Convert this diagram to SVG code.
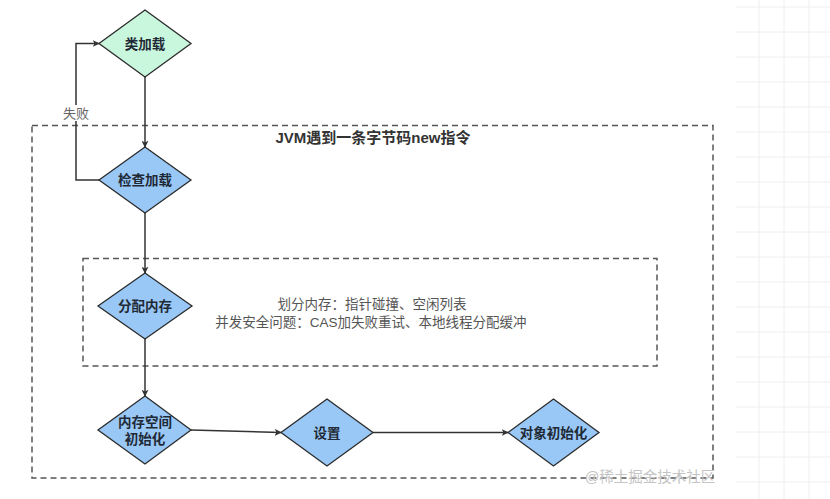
<svg xmlns="http://www.w3.org/2000/svg" width="830" height="499" viewBox="0 0 830 499">
<style>
.grid line{stroke:#eeeeee;stroke-width:1}
.frame{fill:none;stroke:#555;stroke-width:1.5;stroke-dasharray:6 4}
.dia{stroke:#2b2b2b;stroke-width:1.3}
.blue{fill:#99c8f7}
.green{fill:#c9f7de}
.lbl{font-family:"Liberation Sans","Noto Sans CJK SC",sans-serif;font-size:13.5px;font-weight:bold;fill:#1f2a36;text-anchor:middle;dominant-baseline:central}
.note{font-family:"Liberation Sans","Noto Sans CJK SC",sans-serif;font-size:13.5px;fill:#555;text-anchor:middle;dominant-baseline:central}
.edge{fill:none;stroke:#333;stroke-width:1.5}
</style>
<defs>
<marker id="arr" viewBox="0 0 10 10" refX="9" refY="5" markerWidth="7" markerHeight="7" markerUnits="userSpaceOnUse" orient="auto">
<path d="M0,0 L10,5 L0,10 L2.5,5 Z" fill="#333"/>
</marker>
</defs>
<rect width="830" height="499" fill="#ffffff"/>
<g class="grid">
<line x1="759" y1="0" x2="759" y2="499"/>
<line x1="784" y1="0" x2="784" y2="499"/>
<line x1="809" y1="0" x2="809" y2="499"/>
<line x1="736" y1="7" x2="830" y2="7"/>
<line x1="736" y1="32" x2="830" y2="32"/>
<line x1="736" y1="57" x2="830" y2="57"/>
<line x1="736" y1="82" x2="830" y2="82"/>
<line x1="736" y1="107" x2="830" y2="107"/>
<line x1="736" y1="132" x2="830" y2="132"/>
<line x1="736" y1="157" x2="830" y2="157"/>
<line x1="736" y1="182" x2="830" y2="182"/>
<line x1="736" y1="207" x2="830" y2="207"/>
<line x1="736" y1="232" x2="830" y2="232"/>
<line x1="736" y1="257" x2="830" y2="257"/>
<line x1="736" y1="282" x2="830" y2="282"/>
<line x1="736" y1="307" x2="830" y2="307"/>
<line x1="736" y1="332" x2="830" y2="332"/>
<line x1="736" y1="357" x2="830" y2="357"/>
<line x1="736" y1="382" x2="830" y2="382"/>
<line x1="736" y1="407" x2="830" y2="407"/>
<line x1="736" y1="432" x2="830" y2="432"/>
<line x1="736" y1="457" x2="830" y2="457"/>
<line x1="736" y1="482" x2="830" y2="482"/>
</g>
<g id="outer-frame">
<rect class="frame" x="32" y="125.5" width="681" height="352.5"/>
<text x="373" y="137" font-family="Liberation Sans,Noto Sans CJK SC,sans-serif" font-size="15" font-weight="bold" fill="#333" text-anchor="middle" dominant-baseline="central">JVM遇到一条字节码new指令</text>
</g>
<g id="inner-frame">
<rect class="frame" x="83" y="258.5" width="574" height="107.5"/>
<text class="note" x="372" y="304">划分内存：指针碰撞、空闲列表</text>
<text class="note" x="371" y="322">并发安全问题：CAS加失败重试、本地线程分配缓冲</text>
</g>
<g id="connectors">
<path class="edge" d="M145,77 L145,147" marker-end="url(#arr)"/>
<path class="edge" d="M99,180 L76,180 L76,43.5 L99,43.5" marker-end="url(#arr)"/>
<rect x="62" y="105" width="28" height="16" fill="#fff"/>
<text x="76" y="113" font-family="Liberation Sans,Noto Sans CJK SC,sans-serif" font-size="13" fill="#666" text-anchor="middle" dominant-baseline="central">失败</text>
<path class="edge" d="M145,213 L145,273" marker-end="url(#arr)"/>
<path class="edge" d="M145,339 L145,396" marker-end="url(#arr)"/>
<path class="edge" d="M191,430 L281,432.5" marker-end="url(#arr)"/>
<path class="edge" d="M373,432.5 L508,432.5" marker-end="url(#arr)"/>
</g>
<g id="node-class-load">
<polygon class="dia green" points="145,10 191,43.5 145,77 99,43.5"/>
<text class="lbl" x="145" y="44">类加载</text>
</g>
<g id="node-check-load">
<polygon class="dia blue" points="145,147 191,180 145,213 99,180"/>
<text class="lbl" x="145" y="180">检查加载</text>
</g>
<g id="node-alloc">
<polygon class="dia blue" points="145,273 192,306 145,339 98,306"/>
<text class="lbl" x="145" y="306">分配内存</text>
</g>
<g id="node-mem-init">
<polygon class="dia blue" points="145,396 191,430 145,464 98,430"/>
<text class="lbl" x="145" y="422">内存空间</text>
<text class="lbl" x="145" y="439">初始化</text>
</g>
<g id="node-set">
<polygon class="dia blue" points="327,399 373,432.5 327,466 281,432.5"/>
<text class="lbl" x="327" y="433">设置</text>
</g>
<g id="node-obj-init">
<polygon class="dia blue" points="553.5,399 599,432.5 553.5,466 508,432.5"/>
<text class="lbl" x="553.5" y="433">对象初始化</text>
</g>
<text x="650" y="477" font-family="Liberation Sans,Noto Sans CJK SC,sans-serif" font-size="14.5" fill="#c4c4c4" text-anchor="middle" dominant-baseline="central">@稀土掘金技术社区</text>
</svg>
